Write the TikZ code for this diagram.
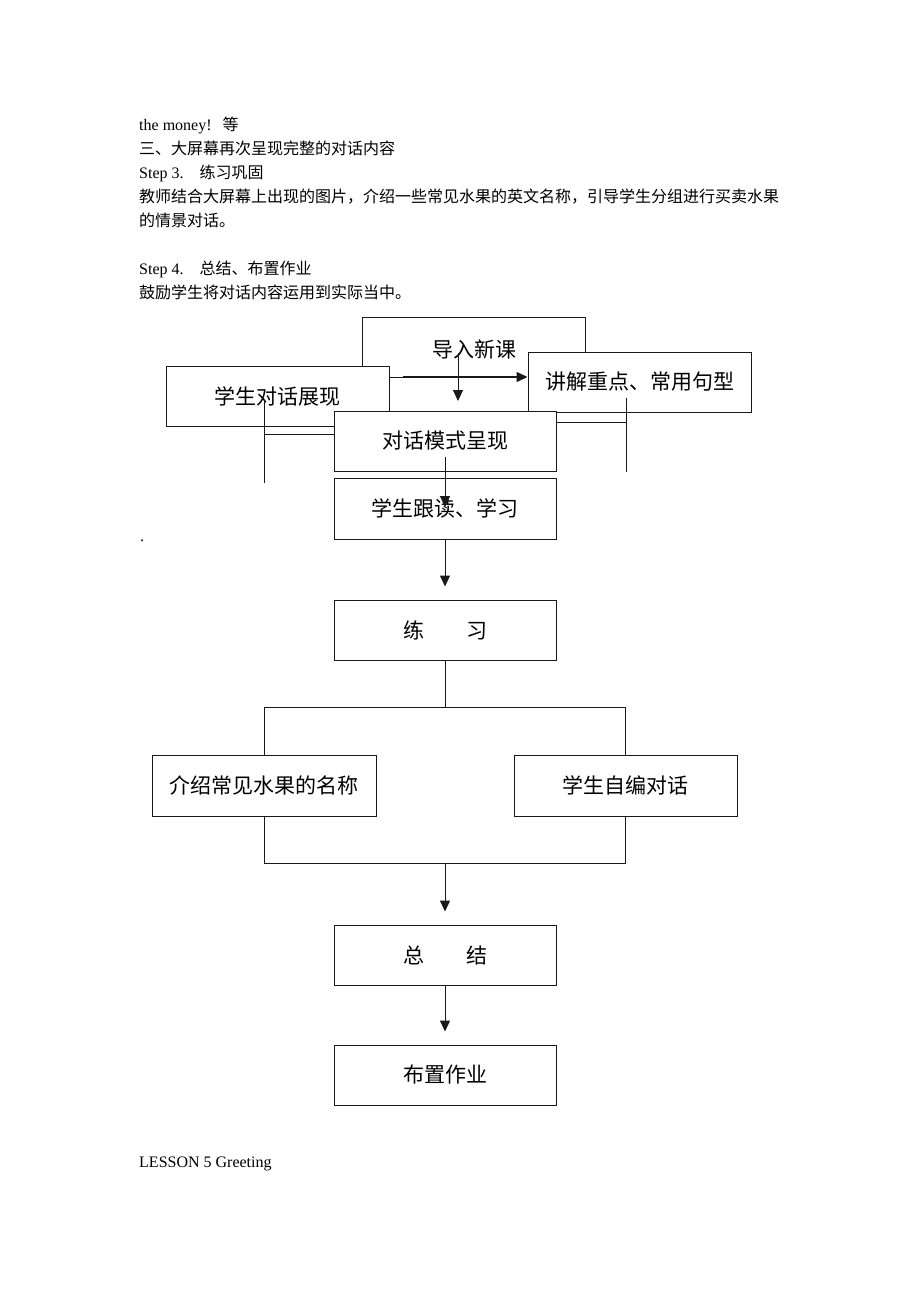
\documentclass[tikz,border=0pt]{standalone}
\usepackage{fontspec}
\setmainfont{Liberation Serif}
\newfontfamily\cjk{Noto Sans CJK SC}
\usetikzlibrary{arrows.meta}
\begin{document}
\begin{tikzpicture}[x=1pt,y=-1pt,
  box/.style={draw=black!90, line width=1pt, fill=white, inner sep=0pt, font=\cjk\fontsize{21}{24}\selectfont},
  lbl/.style={inner sep=0pt, font=\cjk\fontsize{21}{24}\selectfont},
  ln/.style={line width=1pt, draw=black!90},
  arr/.style={ln, -{Triangle[length=11pt,width=10pt]}},
  body/.style={anchor=base west, inner sep=0pt, font=\fontsize{16}{19}\selectfont}]
\useasboundingbox (0,0) rectangle (920,1302);
\fill[white] (0,0) rectangle (920,1302);

% header text
\node[body] (t1) at (139,130) {the money!\hspace{11pt}{\cjk 等}};
\node[body] (t2) at (139,154) {\cjk 三、大屏幕再次呈现完整的对话内容};
\node[body] (t3) at (139,178) {Step 3.\hspace{16pt}{\cjk 练习巩固}};
\node[body] (t4) at (139,202) {\cjk 教师结合大屏幕上出现的图片，介绍一些常见水果的英文名称，引导学生分组进行买卖水果};
\node[body] (t5) at (139,226) {\cjk 的情景对话。};
\node[body] (t6) at (139,274) {Step 4.\hspace{16pt}{\cjk 总结、布置作业}};
\node[body] (t7) at (139,298) {\cjk 鼓励学生将对话内容运用到实际当中。};
\node[body] (dot) at (140,541) {.};
\node[body] (t8) at (139,1167) {LESSON 5 Greeting};

% overlapping top boxes
\node[box, minimum width=223pt, minimum height=94pt] (intro) at (473.5,364) {};
\node[lbl] (introtxt) at (474,349) {导入新课};
\node[box, minimum width=223pt, minimum height=60pt] (show) at (277.5,396) {学生对话展现};
\node[box, minimum width=223pt, minimum height=60pt] (explain) at (639.5,382) {讲解重点、常用句型};
\node[box, minimum width=222pt, minimum height=60pt] (mode) at (445,441) {对话模式呈现};
\node[box, minimum width=222pt, minimum height=61pt] (follow) at (445,508.5) {学生跟读、学习};

% lower boxes
\node[box, minimum width=222pt, minimum height=60pt] (practice) at (445,630) {练\hspace{42pt}习};
\node[box, minimum width=224pt, minimum height=61pt] (fruit) at (264,785.5) {介绍常见水果的名称};
\node[box, minimum width=223pt, minimum height=61pt] (self) at (625.5,785.5) {学生自编对话};
\node[box, minimum width=222pt, minimum height=60pt] (sum) at (445,955) {总\hspace{42pt}结};
\node[box, minimum width=222pt, minimum height=60pt] (hw) at (445,1075) {布置作业};

% connectors in the top cluster
\coordinate (ar) at (0,377);
\coordinate (arb) at (403,377);
\draw[ln] (show.east |- ar) -- (arb);
\draw[arr, line width=1.4pt] (arb) -- (explain.west |- ar);
\coordinate (ia) at (458,353);
\coordinate (ib) at (458,401);
\draw[arr] (ia) -- (ib);
\coordinate (Lt) at (264,400);
\coordinate (Lb) at (264,483);
\coordinate (Lj) at (264,434);
\draw[ln] (Lt) -- (Lb);
\draw[ln] (Lj) -- (Lj -| mode.west);
\coordinate (Rt) at (626,398);
\coordinate (Rb) at (626,472);
\coordinate (Rj) at (626,422);
\draw[ln] (Rt) -- (Rb);
\draw[ln] (Rj -| mode.east) -- (Rj);
\coordinate (ma) at (445,457);
\coordinate (mb) at (445,507);
\draw[arr] (ma) -- (mb);

% main flow
\draw[arr, shorten >=13pt] (follow.south) -- (practice.north);
\coordinate (sp) at (445,707);
\draw[ln] (practice.south) -- (sp);
\draw[ln] (fruit.north) |- (sp) -| (self.north);
\coordinate (mg) at (445,863);
\draw[ln] (fruit.south) |- (mg) -| (self.south);
\draw[arr, shorten >=13pt] (mg) -- (sum.north);
\draw[arr, shorten >=13pt] (sum.south) -- (hw.north);
\end{tikzpicture}
\end{document}
